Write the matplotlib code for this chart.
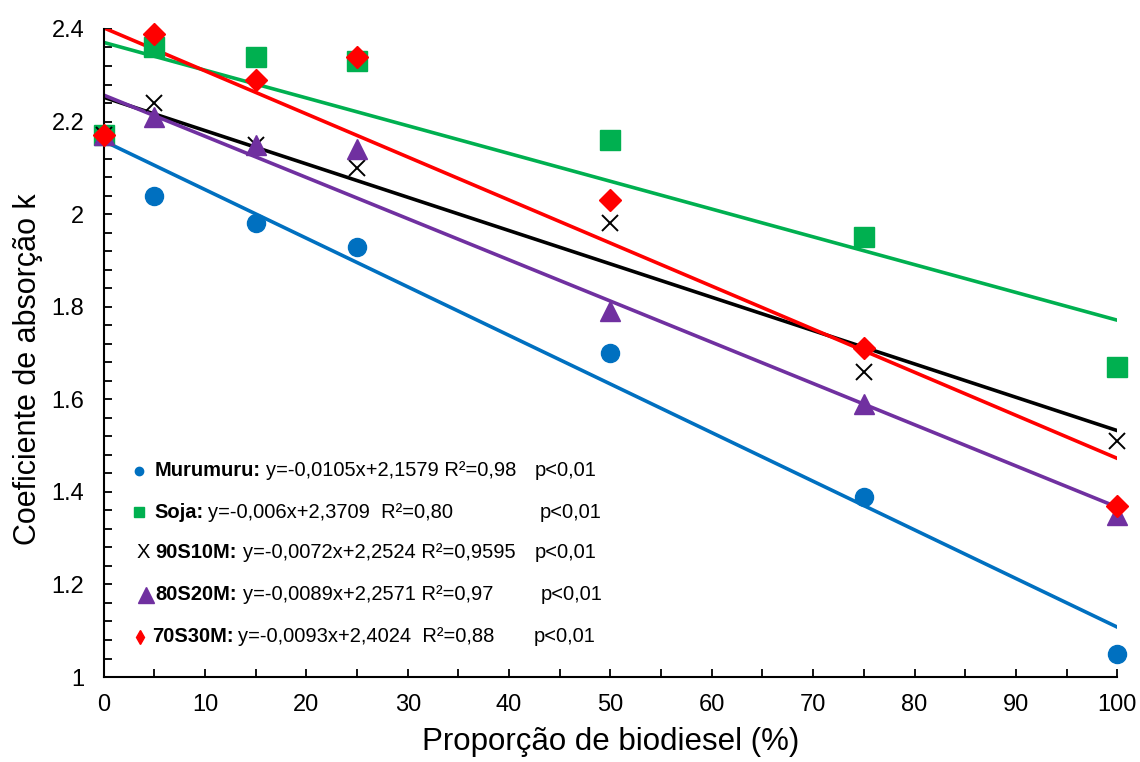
import numpy as np
import matplotlib
matplotlib.use("Agg")
import matplotlib.pyplot as plt
from matplotlib.ticker import MultipleLocator, FuncFormatter

plt.rcParams['font.family'] = ['Liberation Sans', 'DejaVu Sans']

# proporção de biodiesel (%)
x = np.array([0, 5, 15, 25, 50, 75, 100])

murumuru = [2.17, 2.04, 1.98, 1.93, 1.70, 1.39, 1.05]
soja = [2.17, 2.36, 2.34, 2.33, 2.16, 1.95, 1.67]
s90m10 = [2.17, 2.24, 2.15, 2.10, 1.98, 1.66, 1.51]
s80m20 = [2.17, 2.21, 2.15, 2.14, 1.79, 1.59, 1.35]
s70m30 = [2.17, 2.39, 2.29, 2.34, 2.03, 1.71, 1.37]

names = ['Murumuru:', 'Soja:', '90S10M:', '80S20M:', '70S30M:']
slopes = [-0.0105, -0.006, -0.0072, -0.0089, -0.0093]
intercepts = [2.1579, 2.3709, 2.2524, 2.2571, 2.4024]
equations = ['y=-0,0105x+2,1579 R²=0,98', 'y=-0,006x+2,3709  R²=0,80',
             'y=-0,0072x+2,2524 R²=0,9595', 'y=-0,0089x+2,2571 R²=0,97',
             'y=-0,0093x+2,4024  R²=0,88']
pvals = ['p<0,01'] * 5

series = [murumuru, soja, s90m10, s80m20, s70m30]
colors = ['#0070C0', '#00B050', '#000000', '#7030A0', '#FF0000']
markers = ['o', 's', 'x', '^', 'D']
msizes = [13, 14.5, 12, 15, 11]

fig = plt.figure(figsize=(11.4, 7.62), dpi=100)
ax = fig.add_axes([0.091, 0.1115, 0.889, 0.8505])

xl = np.array([0, 100])
for m, b, c in zip(slopes, intercepts, colors):
    ax.plot(xl, m * xl + b, color=c, lw=2.6, zorder=2)

for ys, c, mk, ms in zip(series, colors, markers, msizes):
    if mk == 'x':
        ax.plot(x, ys, ls='none', marker=mk, ms=ms, mec=c, mew=1.4, zorder=3, clip_on=False)
    else:
        ax.plot(x, ys, ls='none', marker=mk, ms=ms, color=c, mec=c, zorder=3, clip_on=False)

ax.set_xlim(0, 100)
ax.set_ylim(1, 2.4)
ax.xaxis.set_major_locator(MultipleLocator(10))
ax.xaxis.set_minor_locator(MultipleLocator(5))
ax.yaxis.set_major_locator(MultipleLocator(0.2))
ax.yaxis.set_minor_locator(MultipleLocator(0.04))
ax.yaxis.set_major_formatter(FuncFormatter(lambda v, p: '%g' % round(v, 2)))
ax.tick_params(which='both', direction='in', length=6, width=1.3, labelsize=17)
ax.tick_params(axis='x', pad=12)
ax.tick_params(axis='y', pad=14)
for s in ['top', 'right']:
    ax.spines[s].set_visible(False)
for s in ['left', 'bottom']:
    ax.spines[s].set_linewidth(1.5)

ax.set_xlabel('Proporção de biodiesel (%)', fontsize=22.5, labelpad=8)
ax.set_ylabel('Coeficiente de absorção k', fontsize=22)
ax.yaxis.set_label_coords(-0.06, 0.475)

# legenda manual (em pixels da figura)
W, H = 1140, 762
rows_y = [471, 512, 553, 595, 637]
mk_x = [139, 139, 143, 146, 140]
mk_sz = [6, 6.5, 0, 12, 7]
mk_style = ['o', 's', 'x', '^', 'd']
name_x = [155, 154, 155, 155, 152]
eq_x = [266, 208, 243, 243, 238]
p_x = [535, 540, 535, 541, 534]
fs = 14.5
for i in range(5):
    fy = 1 - rows_y[i] / H
    if mk_style[i] == 'x':
        fig.text(mk_x[i] / W, fy, 'X', fontsize=fs, ha='center', va='center')
    else:
        fig.lines.append(plt.Line2D([mk_x[i] / W], [fy], transform=fig.transFigure,
                                    marker=mk_style[i], ms=mk_sz[i], color=colors[i], ls='none'))
    fig.text(name_x[i] / W, fy, names[i], fontsize=fs, fontweight='bold',
             ha='left', va='center')
    fig.text(eq_x[i] / W, fy, equations[i], fontsize=fs, ha='left', va='center')
    fig.text(p_x[i] / W, fy, pvals[i], fontsize=fs, ha='left', va='center')

fig.savefig('out.png', dpi=100)
